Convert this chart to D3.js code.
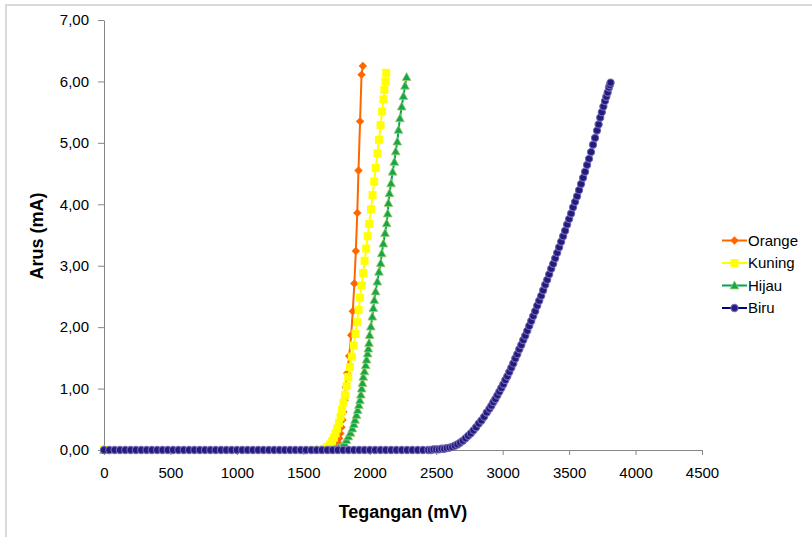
<!DOCTYPE html>
<html><head><meta charset="utf-8">
<script src="https://cdn.jsdelivr.net/npm/d3@7"></script>
<style>
html,body{margin:0;padding:0;background:#fff;}
svg{display:block;}
text{font-family:"Liberation Sans",Arial,sans-serif;}
</style></head>
<body>
<svg id="c" width="812" height="537"></svg>
<script>
// ---- data ----
const seriesNames = ["Orange","Kuning","Hijau","Biru"];
const xTicks = [0,500,1000,1500,2000,2500,3000,3500,4000,4500];
const yTicks = [0,1,2,3,4,5,6,7];
const yTickLabels = ["0,00","1,00","2,00","3,00","4,00","5,00","6,00","7,00"];

const orangeV = [0,1600,1690,1705,1720,1735,1748,1760,1770,1779,1787,1795,1802,1810,1820,1830,1845,1860,1872,1884,1895,1906,1915,1927,1938,1948];
const orangeI = [0,0,0,0.01,0.02,0.04,0.07,0.12,0.19,0.27,0.37,0.49,0.62,0.81,1.02,1.25,1.53,1.87,2.26,2.71,3.24,3.86,4.55,5.35,6.11,6.25];

const kuningV = [0,1600,1650,1680,1700,1717,1730,1743,1755,1768,1780,1791,1802,1814,1826,1838,1851,1865,1879,1892,1904,1916,1927,1938,1950,1961,1973,1984,1995,2009,2021,2033,2045,2058,2069,2081,2093,2103,2110,2118,2124];
const kuningI = [0,0,0.02,0.05,0.09,0.14,0.20,0.27,0.35,0.44,0.54,0.65,0.77,0.90,1.04,1.19,1.35,1.52,1.70,1.89,2.08,2.28,2.48,2.68,2.88,3.08,3.28,3.48,3.68,3.92,4.15,4.37,4.59,4.83,5.05,5.29,5.51,5.71,5.86,6.00,6.14];

const hijauV = [0,1600,1700,1740,1764,1788,1809,1825,1839,1855,1869,1880,1889,1900,1909,1918,1926,1933,1939,1945,1951,1960,1969,1976,1984,1989,1994,1999,2008,2019,2027,2034,2044,2057,2069,2082,2090,2102,2115,2127,2135,2140,2148,2160,2172,2185,2195,2207,2216,2227,2240,2253,2265,2277];
const hijauI = [0,0,0,0.01,0.03,0.06,0.11,0.16,0.22,0.28,0.35,0.42,0.49,0.57,0.65,0.73,0.81,0.90,1.00,1.09,1.19,1.28,1.38,1.47,1.57,1.65,1.74,1.87,2.01,2.17,2.31,2.44,2.58,2.74,2.90,3.04,3.20,3.36,3.53,3.69,3.85,4.02,4.18,4.34,4.53,4.69,4.86,5.02,5.21,5.40,5.59,5.76,5.93,6.07];

const biruV = [0,40,80,120,160,200,240,280,320,360,400,440,480,520,560,600,640,680,720,760,800,840,880,920,960,1000,1040,1080,1120,1160,1200,1240,1280,1320,1360,1400,1440,1480,1520,1560,1600,1640,1680,1720,1760,1800,1840,1880,1920,1960,2000,2040,2080,2120,2160,2200,2240,2280,2320,2360,2400,2440,
 2460,2480,2500,2520,2540,2560,2580,2600,2620,2640,2660,2680,2700,2720,2740,2760,2780,2800,2820,2840,2860,2880,2900,
 2915,2930,2945,2960,2975,2990,3005,3020,3035,3050,3065,3080,3095,3110,3125,3140,3155,3170,3185,3200,3215,3230,3245,3260,3275,3290,3305,3320,3335,3350,3365,3380,3395,3410,3425,3440,3455,3470,3485,3500,3515,3530,3545,3560,3575,3590,3605,3620,3635,3650,3665,3680,3695,3710,3722,3734,3746,3758,3770,3780,3790,3800,3806,3812];
const biruI = [0,0,0,0,0,0,0,0,0,0,0,0,0,0,0,0,0,0,0,0,0,0,0,0,0,0,0,0,0,0,0,0,0,0,0,0,0,0,0,0,0,0,0,0,0,0,0,0,0,0,0,0,0,0,0,0,0,0,0,0,0,0,
 0.00,0.01,0.01,0.01,0.02,0.02,0.03,0.04,0.05,0.07,0.09,0.12,0.15,0.19,0.23,0.27,0.32,0.37,0.43,0.48,0.54,0.61,0.67,
 0.72,0.78,0.83,0.89,0.95,1.01,1.07,1.14,1.20,1.27,1.34,1.41,1.49,1.56,1.64,1.71,1.79,1.86,1.94,2.02,2.10,2.18,2.26,2.35,2.43,2.51,2.60,2.69,2.77,2.86,2.95,3.03,3.12,3.21,3.30,3.39,3.48,3.57,3.67,3.76,3.85,3.95,4.04,4.13,4.23,4.33,4.43,4.53,4.64,4.74,4.85,4.97,5.08,5.20,5.30,5.41,5.50,5.59,5.68,5.75,5.82,5.90,5.94,5.98];

// ---- styles ----
const styles = {
  Orange:{line:"#FF6600", fill:"#FF6600", stroke:"#FF6600", sw:0, shape:"diamond"},
  Kuning:{line:"#FFFF00", fill:"#FFFF00", stroke:"#FFFF00", sw:0, shape:"square"},
  Hijau:{line:"#00A550", fill:"#14A84A", stroke:"#A3CC6E", sw:0.8, shape:"triangle"},
  Biru:{line:"#000080", fill:"#221C7C", stroke:"#7468B6", sw:1.1, shape:"circle"}
};
const shapes = {
  diamond:"M0,-4.2L4.2,0L0,4.2L-4.2,0Z",
  square:"M-4,-4H4V4H-4Z",
  triangle:"M0,-4.6L4.4,3.4H-4.4Z",
  circle:"M3.6,0A3.6,3.6 0 1,1 -3.6,0A3.6,3.6 0 1,1 3.6,0Z"
};

const svg = d3.select("#c");
const pLeft=104, pRight=702, pTop=20, pBottom=450;
const x = d3.scaleLinear().domain([0,4500]).range([pLeft,pRight]);
const y = d3.scaleLinear().domain([0,7]).range([pBottom,pTop]);

// chart border
svg.append("rect").attr("x",6).attr("y",5).attr("width",830).attr("height",560)
  .attr("fill","none").attr("stroke","#D9D9D9").attr("stroke-width",2);

// axes
const gx = svg.append("g").attr("transform",`translate(0,${pBottom})`)
  .call(d3.axisBottom(x).tickValues(xTicks).tickSize(5).tickSizeOuter(0).tickPadding(12).tickFormat(d=>String(d)));
const gy = svg.append("g").attr("transform",`translate(${pLeft},0)`)
  .call(d3.axisLeft(y).tickValues(yTicks).tickSize(6).tickSizeOuter(0).tickPadding(9).tickFormat((d,i)=>yTickLabels[i]));
[gx,gy].forEach(g=>{
  g.selectAll("path,line").attr("stroke","#868686").attr("stroke-width",1);
  g.selectAll("text").attr("fill","#000").style("font-size","15px").style("font-family",'"Liberation Sans",Arial,sans-serif');
});

// titles
svg.append("text").attr("x",403).attr("y",518).attr("text-anchor","middle")
  .style("font-size","18px").style("font-weight","bold").text("Tegangan (mV)");
svg.append("text").attr("transform","translate(43,236) rotate(-90)").attr("text-anchor","middle")
  .style("font-size","18px").style("font-weight","bold").text("Arus (mA)");

// series
const data = {
  Orange: orangeV.map((v,i)=>({v, a:orangeI[i]})),
  Kuning: kuningV.map((v,i)=>({v, a:kuningI[i]})),
  Hijau: hijauV.map((v,i)=>({v, a:hijauI[i]})),
  Biru: biruV.map((v,i)=>({v, a:biruI[i]}))
};
const line = d3.line().x(d=>x(d.v)).y(d=>y(d.a));
seriesNames.forEach(name=>{
  const st = styles[name];
  const g = svg.append("g");
  g.append("path").datum(data[name]).attr("d",line).attr("fill","none")
    .attr("stroke",st.line).attr("stroke-width",2);
  g.selectAll("path.m").data(data[name]).join("path").attr("class","m")
    .attr("transform",d=>`translate(${x(d.v)},${y(d.a)})`)
    .attr("d",shapes[st.shape]).attr("fill",st.fill)
    .attr("stroke",st.stroke).attr("stroke-width",st.sw);
});

// legend
const legY = [240.5,263,285.5,308];
seriesNames.forEach((name,i)=>{
  const st = styles[name];
  const g = svg.append("g").attr("transform",`translate(0,${legY[i]})`);
  g.append("line").attr("x1",722).attr("x2",747).attr("y1",0).attr("y2",0)
    .attr("stroke",st.line).attr("stroke-width",2);
  g.append("path").attr("transform","translate(734.5,0)").attr("d",shapes[st.shape])
    .attr("fill",st.fill).attr("stroke",st.stroke).attr("stroke-width",st.sw);
  g.append("text").attr("x",748).attr("y",0).attr("dy","0.35em")
    .style("font-size","15px").text(name);
});
</script>
</body></html>
